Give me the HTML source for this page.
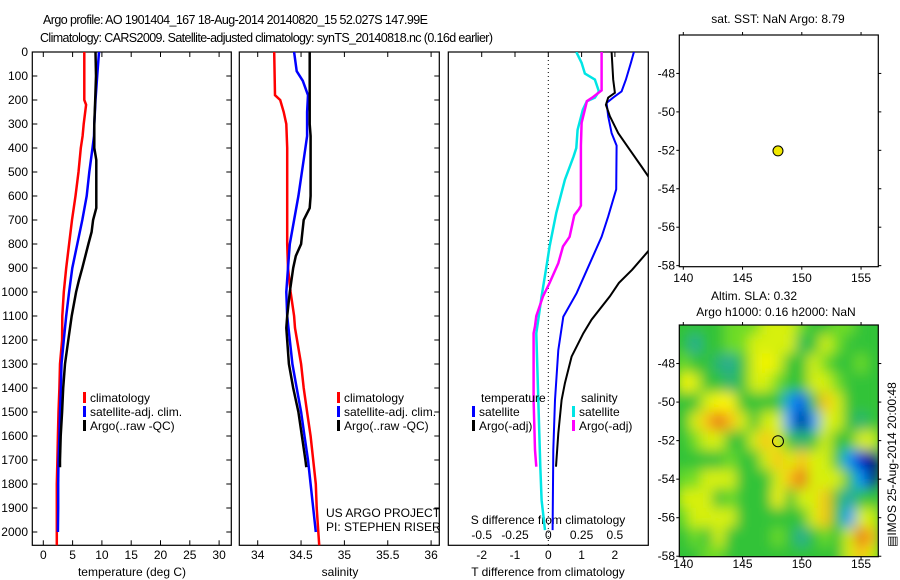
<!DOCTYPE html>
<html><head><meta charset="utf-8"><style>
html,body{margin:0;padding:0;background:#fff;}
svg{display:block;font-family:"Liberation Sans",sans-serif;}
</style></head><body>
<svg id="fig" width="900" height="580" viewBox="0 0 900 580" xmlns="http://www.w3.org/2000/svg">
<defs>
<filter id="blur" x="-10%" y="-10%" width="120%" height="120%"><feGaussianBlur stdDeviation="6.5"/></filter>
<clipPath id="mapclip"><rect x="679.3" y="325" width="199" height="231.7"/></clipPath>
</defs>
<text x="43" y="24" font-size="12.5" textLength="385">Argo profile: AO 1901404_167 18-Aug-2014 20140820_15 52.027S 147.99E</text>
<text x="40" y="42" font-size="12.5" textLength="453">Climatology: CARS2009. Satellite-adjusted climatology: synTS_20140818.nc (0.16d earlier)</text>
<g id="root"></g>
</svg>
<script>
// ---- profile data (depth in m) ----
const tClimDepth = [0,200,220,300,350,400,500,600,700,800,900,1000,1100,1200,1300,1400,1500,1600,1700,1800,2000,2060];
const tClimVal   = [7.0,7.0,7.3,6.9,6.7,6.4,6.0,5.5,4.9,4.4,3.9,3.5,3.25,3.2,2.85,2.75,2.6,2.5,2.4,2.3,2.3,2.3];
const tSatDepth  = [0,100,200,300,350,400,500,600,700,800,900,1000,1100,1200,1300,1400,1500,1600,1700,1800,1900,2000];
const tSatVal    = [9.5,9.2,8.9,8.7,8.65,8.4,7.85,7.4,6.65,5.8,4.95,4.4,3.9,3.5,3.1,3.0,2.85,2.75,2.6,2.55,2.55,2.5];
const tArgoDepth = [0,100,200,300,400,450,500,650,700,750,800,900,950,1000,1100,1200,1300,1400,1500,1600,1700,1730];
const tArgoVal   = [8.9,9.0,8.85,8.7,8.7,9.05,9.05,9.05,8.5,8.25,7.7,6.65,6.1,5.6,4.85,4.27,3.7,3.4,3.2,2.97,2.85,2.85];

const sClimDepth = [0,180,200,250,300,400,600,800,900,1000,1100,1150,1300,1400,1500,1600,1700,1800,1900,2060];
const sClimVal   = [34.19,34.2,34.26,34.3,34.33,34.34,34.34,34.34,34.35,34.38,34.42,34.43,34.5,34.53,34.57,34.61,34.64,34.67,34.68,34.71];
const sSatDepth  = [0,80,120,180,250,350,400,500,600,700,800,900,1000,1100,1200,1300,1400,1500,1600,1700,1800,1900,2000];
const sSatVal    = [34.42,34.45,34.52,34.58,34.57,34.57,34.55,34.51,34.47,34.42,34.37,34.35,34.33,34.34,34.37,34.4,34.45,34.5,34.54,34.58,34.61,34.64,34.67];
const sArgoDepth = [0,300,350,600,650,700,800,850,900,1000,1100,1150,1300,1400,1500,1600,1700,1730];
const sArgoVal   = [34.6,34.6,34.61,34.61,34.6,34.53,34.5,34.44,34.41,34.37,34.34,34.33,34.36,34.41,34.47,34.51,34.55,34.56];

// differences (T in degC, S in psu)
const dTsatDepth = [0,45,115,164,190,212,268,338,390,572,685,770,880,1005,1103,1242,1450,1658,1992];
const dTsatVal   = [2.57,2.48,2.33,2.2,1.95,1.75,1.8,1.9,2.05,2.04,1.8,1.6,1.25,0.85,0.45,0.3,0.2,0.15,0.13];
const dTargoDepth= [0,115,170,190,220,268,338,408,477,518,600,750,830,907,962,1018,1115,1172,1269,1380,1450,1589,1728];
const dTargoVal  = [1.9,1.95,2.0,1.8,1.73,1.85,2.1,2.45,2.8,3.0,3.5,3.5,3.0,2.52,2.12,1.85,1.3,1.05,0.7,0.5,0.4,0.3,0.23];
const dSsatDepth = [0,45,90,115,164,190,205,240,324,400,435,532,670,810,880,1018,1115,1172,1450,1728,1867,1992];
const dSsatVal   = [0.21,0.25,0.275,0.35,0.38,0.35,0.29,0.26,0.22,0.21,0.19,0.125,0.06,0.01,-0.01,-0.05,-0.075,-0.09,-0.075,-0.06,-0.05,-0.025];
const dSargoDepth= [0,160,190,205,295,390,640,655,680,770,810,880,962,1018,1100,1143,1172,1450,1658,1728];
const dSargoVal  = [0.4,0.4,0.33,0.29,0.25,0.245,0.245,0.23,0.195,0.16,0.11,0.075,0.01,-0.04,-0.09,-0.1,-0.11,-0.11,-0.1,-0.09];

// ---- map data ----
const argoLon = 147.99;
const argoLat = -52.03;
const slaLons = [140,141,142,143,144,145,146,147,148,149,150,151,152,153,154,155,156];
const slaLats = [-46,-47,-48,-49,-50,-51,-52,-53,-54,-55,-56,-57,-58];
const slaRow46 = [0,0,0,0,0.1,0.1,0.1,0.2,0.2,0.2,0.1,0,0,0.1,0.1,0,0];
const slaRow47 = [0,-0.15,0,0,0.1,0.1,0.2,0.2,0.2,0.2,-0.05,0,0.2,0.1,0,0,0];
const slaRow48 = [0.1,0,0,-0.1,-0.15,0,0.2,0.25,0.2,0,0,0.2,0.1,0,0,0.1,0];
const slaRow49 = [0.25,0.2,0,0,-0.1,0,0.2,0.2,0.1,0,0,0.2,0.2,0.1,0,0,0];
const slaRow50 = [0,0,0.2,0.25,0.25,0,0,0,0,-0.3,-0.45,0,0.3,0.2,0,0,0];
const slaRow51 = [0,0.2,0.3,0.4,0.3,0.2,0,0.2,0.2,-0.35,-0.75,-0.35,0.2,0.2,0,-0.1,0];
const slaRow52 = [0,0.1,0.2,0.2,0,0,0.2,0.3,0.2,0,-0.1,0,0.2,0,0,0.2,0.2];
const slaRow53 = [0,0,0,0,0.1,0,0,0.2,0.3,0.2,0.3,0.2,0.2,0,-0.35,-0.6,-0.75];
const slaRow54 = [0.1,0.1,0.2,0.2,0.2,0,0,0,0.2,0.3,0.4,0.2,0.2,0.2,0,-0.35,-0.75];
const slaRow55 = [0.2,0.2,0.2,0,0.1,0,0,0,0.25,0,0.2,0.2,0.3,0,-0.2,0,0];
const slaRow56 = [0.1,0.2,0.2,0.2,0.2,0,0,0,0,0,0,0.2,0.3,0,-0.35,0.2,0.2];
const slaRow57 = [0,0.1,0,0.2,0,0,0,0,0.1,0,-0.15,0,0.1,0,0.2,0.4,0.3];
const slaRow58 = [0,0,0.1,0.1,0,0,0,0,0,0,0,0,0,0,0.2,0.3,0.2];
const slaGrid = [slaRow46,slaRow47,slaRow48,slaRow49,slaRow50,slaRow51,slaRow52,slaRow53,slaRow54,slaRow55,slaRow56,slaRow57,slaRow58];

// tick labels
const depthTicks = [0,100,200,300,400,500,600,700,800,900,1000,1100,1200,1300,1400,1500,1600,1700,1800,1900,2000];
const tempTicks = [0,5,10,15,20,25,30];
const salTicks = [34,34.5,35,35.5,36];
const salTickLabels = ["34","34.5","35","35.5","36"];
const dTTicks = [-2,-1,0,1,2];
const dSTicks = [-0.5,-0.25,0,0.25,0.5];
const dSTickLabels = ["-0.5","-0.25","0","0.25","0.5"];
const lonTicks = [140,145,150,155];
const latTicks = [-48,-50,-52,-54,-56,-58];

// ---- scales ----
const NS = "http://www.w3.org/2000/svg";
const root = document.getElementById('root');
const Y0 = 52, Y1 = 545.3;
const yD = d => Y0 + d * 0.24;
const xT = t => 43.3 + t * 5.86;
const xS = s => 257.7 + (s - 34) * 86.7;
const xDT = t => 548.3 + t * 33.3;
const xDS = s => 548.3 + s * 4 * 33.3;
const mapLon = lon => 683.3 + (lon - 140) * 11.85;
const latTop = lat => 35 + (-46 - lat) * 19.22;
const latBot = lat => 325 + (-46 - lat) * 19.27;

function mk(tag, attrs, parent) {
  const e = document.createElementNS(NS, tag);
  for (const k in attrs) e.setAttribute(k, attrs[k]);
  (parent || root).appendChild(e);
  return e;
}
function txt(x, y, s, anchor, size, parent) {
  const e = mk('text', {x: x, y: y, 'font-size': size || 12, 'text-anchor': anchor || 'start'}, parent);
  e.textContent = s;
  return e;
}

function panel(name, x0, x1) {
  const g = mk('g', {});
  
  
  const r = mk('rect', {x: x0, y: Y0, width: x1 - x0, height: Y1 - Y0, fill: '#fff', stroke: '#000', 'stroke-width': 1.2}, g);
  
  
  const cp = mk('clipPath', {id: name + '-clip'}, g);
  mk('rect', {x: x0, y: Y0, width: x1 - x0, height: Y1 - Y0}, cp);
  return g;
}
function line(g, name, depths, vals, xf, color, w, clip) {
  const pts = depths.map((d, i) => xf(vals[i]).toFixed(1) + ',' + yD(d).toFixed(1)).join(' ');
  const p = mk('polyline', {points: pts, fill: 'none', stroke: color, 'stroke-width': w, 'stroke-linejoin': 'miter', 'clip-path': 'url(#' + clip + ')'}, g);
  
  
}

// ---- panel 1: temperature ----
const P1x0 = 32.3, P1x1 = 231.3;
const g1 = panel('temperature-panel', P1x0, P1x1);
depthTicks.forEach(d => {
  mk('line', {x1: P1x0, x2: P1x0 + 5, y1: yD(d), y2: yD(d), stroke: '#000'}, g1);
  mk('line', {x1: P1x1, x2: P1x1 - 5, y1: yD(d), y2: yD(d), stroke: '#000'}, g1);
  const t = txt(28, yD(d) + 4, String(d), 'end', 12, g1);
  
  
});
tempTicks.forEach(v => {
  mk('line', {x1: xT(v), x2: xT(v), y1: Y0, y2: Y0 + 5, stroke: '#000'}, g1);
  mk('line', {x1: xT(v), x2: xT(v), y1: Y1, y2: Y1 - 5, stroke: '#000'}, g1);
  const t = txt(xT(v), 559, String(v), 'middle', 12, g1);
  
  
});
const xt1 = txt(132, 576, 'temperature (deg C)', 'middle', 12, g1);


line(g1, 'temperature-climatology-line', tClimDepth, tClimVal, xT, '#ff0000', 2.5, 'temperature-panel-clip');
line(g1, 'temperature-satellite-line', tSatDepth, tSatVal, xT, '#0000ff', 2.5, 'temperature-panel-clip');
line(g1, 'temperature-argo-line', tArgoDepth, tArgoVal, xT, '#000000', 2.5, 'temperature-panel-clip');

function legend(g, x, y, labels, colors, prefix) {
  labels.forEach((l, i) => {
    const b = mk('rect', {x: x, y: y + i * 14 - 10, width: 3, height: 11, fill: colors[i]}, g);
    
    
    const t = txt(x + 7, y + i * 14, l, 'start', 12, g);
    
    
  });
}
legend(g1, 83, 402, ['climatology', 'satellite-adj. clim.', 'Argo(..raw -QC)'], ['#ff0000', '#0000ff', '#000'], 'temperature-legend-entry');

// ---- panel 2: salinity ----
const P2x0 = 239.3, P2x1 = 439.3;
const g2 = panel('salinity-panel', P2x0, P2x1);
depthTicks.forEach(d => {
  mk('line', {x1: P2x1, x2: P2x1 - 5, y1: yD(d), y2: yD(d), stroke: '#000'}, g2);
});
salTicks.forEach((v, i) => {
  mk('line', {x1: xS(v), x2: xS(v), y1: Y0, y2: Y0 + 5, stroke: '#000'}, g2);
  mk('line', {x1: xS(v), x2: xS(v), y1: Y1, y2: Y1 - 5, stroke: '#000'}, g2);
  const t = txt(xS(v), 559, salTickLabels[i], 'middle', 12, g2);
  
  
});
const xt2 = txt(340, 576, 'salinity', 'middle', 12, g2);


line(g2, 'salinity-climatology-line', sClimDepth, sClimVal, xS, '#ff0000', 2.5, 'salinity-panel-clip');
line(g2, 'salinity-satellite-line', sSatDepth, sSatVal, xS, '#0000ff', 2.5, 'salinity-panel-clip');
line(g2, 'salinity-argo-line', sArgoDepth, sArgoVal, xS, '#000000', 2.5, 'salinity-panel-clip');
legend(g2, 337, 402, ['climatology', 'satellite-adj. clim.', 'Argo(..raw -QC)'], ['#ff0000', '#0000ff', '#000'], 'salinity-legend-entry');
const us1 = txt(326, 517, 'US ARGO PROJECT', 'start', 12, g2);


const us2 = txt(326, 531, 'PI: STEPHEN RISER', 'start', 12, g2);



// ---- panel 3: differences ----
const P3x0 = 448.3, P3x1 = 648.3;
const g3 = panel('difference-panel', P3x0, P3x1);
const zl = mk('line', {x1: xDT(0), x2: xDT(0), y1: Y0, y2: Y1, stroke: '#000', 'stroke-dasharray': '1,3'}, g3);


dTTicks.forEach(v => {
  mk('line', {x1: xDT(v), x2: xDT(v), y1: Y0, y2: Y0 + 5, stroke: '#000'}, g3);
  const t = txt(xDT(v), 559, String(v), 'middle', 12, g3);
  
  
});
dSTicks.forEach((v, i) => {
  const t = txt(xDS(v), 539, dSTickLabels[i], 'middle', 12, g3);
  
  
});
const st = txt(548, 524, 'S difference from climatology', 'middle', 12, g3);


const tt = txt(548, 576, 'T difference from climatology', 'middle', 12, g3);


line(g3, 'salinity-satellite-diff-line', dSsatDepth, dSsatVal, xDS, '#00e5e5', 2.5, 'difference-panel-clip');
line(g3, 'salinity-argo-diff-line', dSargoDepth, dSargoVal, xDS, '#ff00ff', 2.5, 'difference-panel-clip');
line(g3, 'temperature-satellite-diff-line', dTsatDepth, dTsatVal, xDT, '#0000ff', 2, 'difference-panel-clip');
line(g3, 'temperature-argo-diff-line', dTargoDepth, dTargoVal, xDT, '#000000', 2, 'difference-panel-clip');
const lh1 = txt(481, 402, 'temperature', 'start', 12, g3);


const lh2 = txt(581, 402, 'salinity', 'start', 12, g3);


legend(g3, 472, 416, ['satellite', 'Argo(-adj)'], ['#0000ff', '#000'], 'temperature-diff-legend-entry');
legend(g3, 572, 416, ['satellite', 'Argo(-adj)'], ['#00e5e5', '#ff00ff'], 'salinity-diff-legend-entry');

// ---- maps ----
function mapAxes(name, top, bottom, latf, labelY) {
  const g = mk('g', {});
  
  
  const L = 679.3, R = 878.3;
  const fr = mk('rect', {x: L, y: top, width: R - L, height: bottom - top, fill: 'none', stroke: '#000', 'stroke-width': 1.2}, g);
  
  
  lonTicks.forEach(v => {
    const x = mapLon(v);
    mk('line', {x1: x, x2: x, y1: top, y2: top - 3, stroke: '#000'}, g);
    mk('line', {x1: x, x2: x, y1: bottom, y2: bottom + 3, stroke: '#000'}, g);
    const t = txt(x, labelY, String(v), 'middle', 12, g);
    
    
  });
  latTicks.forEach(v => {
    const y = latf(v);
    mk('line', {x1: L, x2: L - 3, y1: y, y2: y, stroke: '#000'}, g);
    mk('line', {x1: R, x2: R + 3, y1: y, y2: y, stroke: '#000'}, g);
    const t = txt(675, y + 4, String(v), 'end', 12, g);
    
    
  });
  return g;
}
const gm1 = mapAxes('sst-map', 35, 266.7, latTop, 282);
const m1t = txt(778, 23, 'sat. SST: NaN Argo: 8.79', 'middle', 12, gm1);


const d1 = mk('circle', {cx: mapLon(argoLon), cy: latTop(argoLat), r: 5, fill: '#f0e800', stroke: '#000', 'stroke-width': 1}, gm1);



// SLA heatmap
function slaColor(v) {
  const stops = [[-0.75,[0,0,130]],[-0.55,[0,20,230]],[-0.35,[0,150,255]],[-0.15,[40,170,150]],[0,[50,195,55]],[0.1,[110,220,40]],[0.2,[215,240,10]],[0.25,[250,245,0]],[0.32,[250,175,30]],[0.4,[230,110,20]],[0.55,[190,30,10]]];
  if (v <= stops[0][0]) return 'rgb(' + stops[0][1].join(',') + ')';
  for (let i = 1; i < stops.length; i++) {
    if (v <= stops[i][0]) {
      const f = (v - stops[i-1][0]) / (stops[i][0] - stops[i-1][0]);
      const c = stops[i-1][1].map((a, k) => Math.round(a + (stops[i][1][k] - a) * f));
      return 'rgb(' + c.join(',') + ')';
    }
  }
  return 'rgb(' + stops[stops.length-1][1].join(',') + ')';
}
const heat = mk('g', {'clip-path': 'url(#mapclip)'});


mk('rect', {x: 679.3, y: 325, width: 199, height: 231.7, fill: 'rgb(50,195,55)'}, heat);
const cells = mk('g', {filter: 'url(#blur)'}, heat);
slaGrid.forEach((row, j) => {
  row.forEach((v, i) => {
    const cx = mapLon(slaLons[i]), cy = latBot(slaLats[j]);
    const c = mk('rect', {x: (cx - 6.1).toFixed(1), y: (cy - 9.8).toFixed(1), width: 12.3, height: 19.7, fill: slaColor(v)}, cells);
    
    
  });
});
const gm2 = mapAxes('sla-map', 325, 556.7, latBot, 568);
const m2a = txt(754, 300, 'Altim. SLA: 0.32', 'middle', 12, gm2);


const m2b = txt(776, 316, 'Argo h1000: 0.16 h2000: NaN', 'middle', 12, gm2);


const d2 = mk('circle', {cx: mapLon(argoLon), cy: latBot(argoLat), r: 5.5, fill: 'none', stroke: '#000', 'stroke-width': 1}, gm2);


const stamp = mk('text', {x: 0, y: 0, 'font-size': 12, transform: 'translate(896,547) rotate(-90)'}, gm2);
stamp.textContent = '\u25A4IMOS 25-Aug-2014 20:00:48';


</script>
</body></html>
